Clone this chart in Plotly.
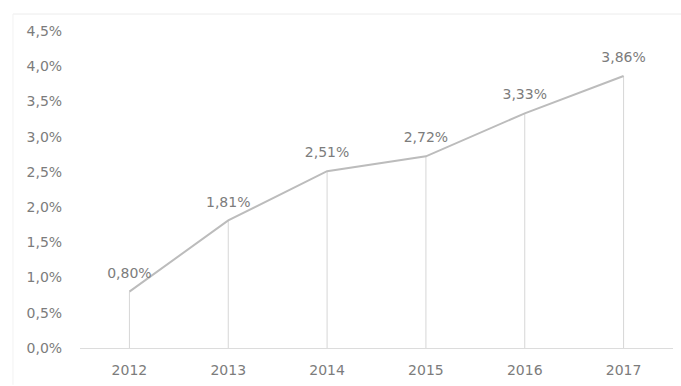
import plotly.graph_objects as go

years = ["2012", "2013", "2014", "2015", "2016", "2017"]
values = [0.80, 1.81, 2.51, 2.72, 3.33, 3.86]
tick_vals = [0.0, 0.5, 1.0, 1.5, 2.0, 2.5, 3.0, 3.5, 4.0, 4.5]

text_color = "#7c7c7c"
font_family = "DejaVu Sans"
font_size = 14

point_labels = [f"{v:.2f}%".replace(".", ",") for v in values]
tick_text = [f"{v:.1f}%".replace(".", ",") for v in tick_vals]

fig = go.Figure()
fig.add_trace(go.Scatter(
    x=years, y=values, mode="lines",
    line=dict(color="#bcbcbc", width=2),
    error_y=dict(type="data", symmetric=False, array=[0] * len(values),
                 arrayminus=values, color="#d6d6d6", thickness=1, width=0),
    hoverinfo="skip", showlegend=False,
))
fig.add_trace(go.Scatter(
    x=years, y=values, mode="markers+text", text=point_labels,
    textposition="top center",
    marker=dict(size=15, color="rgba(0,0,0,0)"),
    textfont=dict(size=font_size, color=text_color, family=font_family),
    hoverinfo="skip", showlegend=False,
))

# faint page border seen in the reference (top and left edge)
fig.add_shape(type="line", xref="paper", yref="paper",
              x0=-0.113, x1=1.02, y0=1, y1=1,
              line=dict(color="#ececec", width=1))
fig.add_shape(type="line", xref="paper", yref="paper",
              x0=-0.113, x1=-0.113, y0=1, y1=-0.11,
              line=dict(color="#f2f2f2", width=1))

fig.update_layout(
    width=681, height=386,
    margin=dict(l=80, r=8, t=14, b=36),
    paper_bgcolor="white", plot_bgcolor="white",
    font=dict(family=font_family, size=font_size, color=text_color),
    xaxis=dict(type="category", range=[-0.5, 5.5], showgrid=False,
               showline=True, linecolor="#dcdcdc", linewidth=1,
               ticks="outside", ticklen=9, tickcolor="rgba(0,0,0,0)",
               tickfont=dict(size=font_size, color=text_color)),
    yaxis=dict(range=[0, 4.74], tickmode="array", tickvals=tick_vals,
               ticktext=tick_text, showgrid=False, zeroline=False,
               showline=False, ticks="outside", ticklen=14,
               tickcolor="rgba(0,0,0,0)",
               tickfont=dict(size=font_size, color=text_color)),
)

fig.write_html("out.html")
